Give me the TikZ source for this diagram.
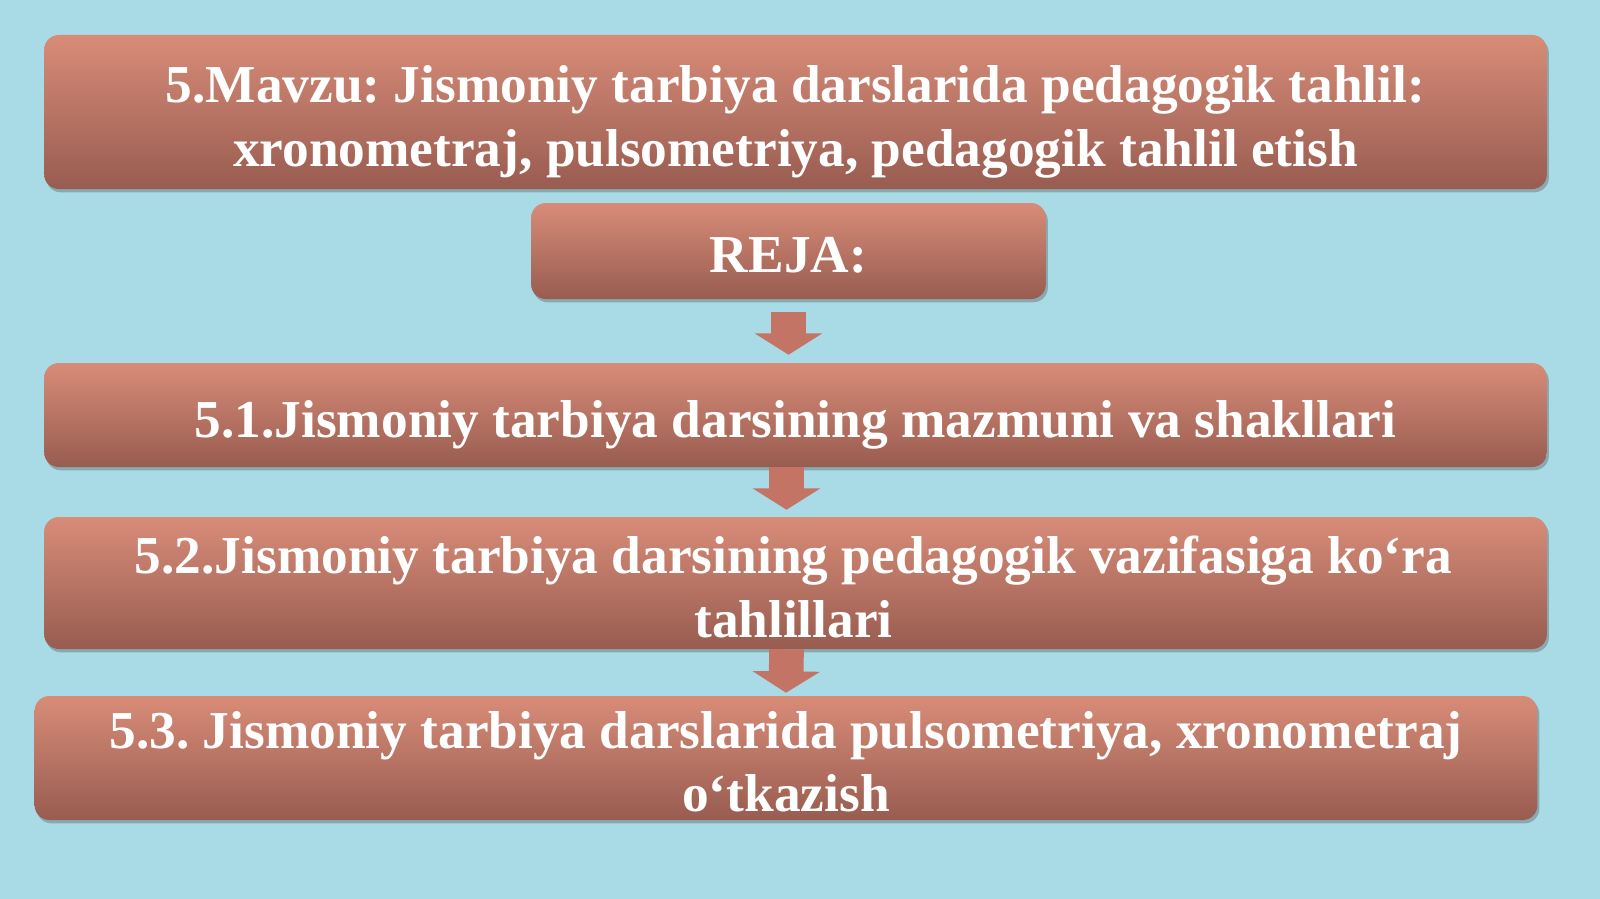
\documentclass[tikz,border=0pt]{standalone}
\usepackage{fontspec}
\setmainfont{Liberation Serif}
\usetikzlibrary{shadows,arrows.meta,calc}
\definecolor{bgblue}{RGB}{168,219,229}
\definecolor{boxtop}{RGB}{216,140,120}
\definecolor{boxbot}{RGB}{152,92,80}
\definecolor{arrowfill}{RGB}{196,116,100}
\tikzset{
  plate/.style={rectangle, rounded corners=11pt, top color=boxtop, bottom color=boxbot,
    draw=none, inner sep=0pt,
    drop shadow={shadow xshift=1.5pt, shadow yshift=-2.5pt, opacity=0.35, fill=black!70}},
  platetext/.style={text=white, align=center, inner sep=0pt,
    font=\fontsize{40}{47.5}\selectfont\bfseries\frenchspacing},
  blockarrow/.style={draw=arrowfill, line width=26pt, line cap=butt,
    -{Triangle[width=50pt,length=16pt,fill=arrowfill]}}
}
\begin{document}
\begin{tikzpicture}[x=0.75pt,y=-0.75pt]
\fill[bgblue] (0,0) rectangle (1600,899);
\useasboundingbox (0,0) rectangle (1600,899);
\node[plate, minimum width=1127pt, minimum height=115.5pt] (title) at (795.5,112) {};
\node[plate, minimum width=386pt, minimum height=72pt] (reja) at (788.5,251) {};
\node[plate, minimum width=1127pt, minimum height=78pt] (s1) at (795.5,415) {};
\node[plate, minimum width=1127pt, minimum height=99pt] (s2) at (795.5,583) {};
\node[plate, minimum width=1127pt, minimum height=93pt] (s3) at (786,758) {};
\node[platetext] (titlet) at ($(title.center)+(0,10)$)
  {5.Mavzu: Jismoniy tarbiya darslarida pedagogik tahlil:\\xronometraj, pulsometriya, pedagogik tahlil etish};
\node[platetext, font=\fontsize{40}{48}\selectfont\bfseries] (rejat) at ($(reja.center)+(0,4)$) {REJA:};
\node[platetext] (s1t) at ($(s1.center)+(0,10)$)
  {5.1.Jismoniy tarbiya darsining mazmuni va shakllari};
\node[platetext] (s2t) at ($(s2.center)+(-2,4)$)
  {5.2.Jismoniy tarbiya darsining pedagogik vazifasiga ko‘ra\\tahlillari};
\node[platetext] (s3t) at ($(s3.center)+(0,4)$)
  {5.3. Jismoniy tarbiya darslarida pulsometriya, xronometraj\\o‘tkazish};
\coordinate (a1s) at ($(reja.south)+(0,13)$);
\coordinate (a1e) at ($(reja.south |- s1.north)+(0,-8)$);
\coordinate (a2s) at ($(s1.south)+(-9,0)$);
\coordinate (a2e) at ($(s2.north)+(-9,-7)$);
\coordinate (a3s) at ($(s2.south)+(-9,0)$);
\coordinate (a3e) at ($(s3.north)+(0,-3)$);
\draw[blockarrow] (a1s) -- (a1e);
\draw[blockarrow] (a2s) -- (a2e);
\draw[blockarrow] (a3s) -- (a3e);
\end{tikzpicture}
\end{document}
